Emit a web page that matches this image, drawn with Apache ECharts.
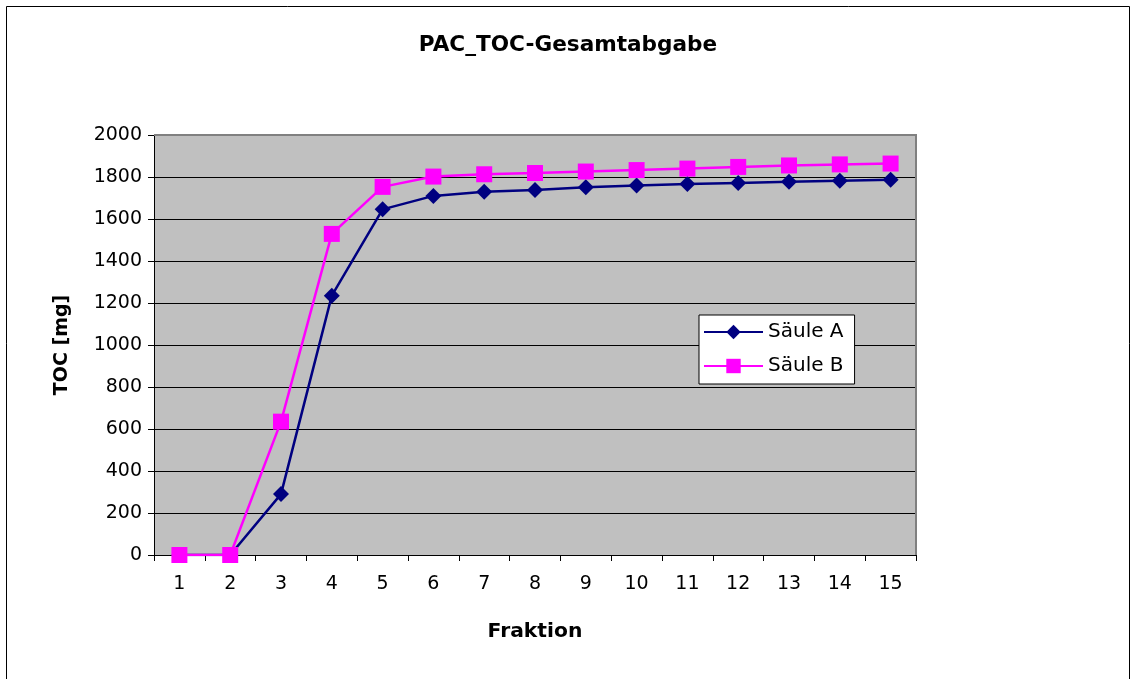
<!DOCTYPE html>
<html>
<head>
<meta charset="utf-8">
<script src="https://cdn.jsdelivr.net/npm/echarts@6/dist/echarts.min.js"></script>
<style>
  html, body { margin: 0; padding: 0; background: #fff; }
  #chart { width: 1136px; height: 679px; }
</style>
</head>
<body>
<div id="chart"></div>
<script>
// Fractions on the x axis
const fractions = ['1','2','3','4','5','6','7','8','9','10','11','12','13','14','15'];
// Cumulative TOC release per column [mg]
const saeuleA = [0, 0, 290, 1235, 1646, 1710, 1730, 1738, 1751, 1760, 1767, 1772, 1777, 1782, 1787];
const saeuleB = [0, 0, 635, 1529, 1753, 1802, 1813, 1819, 1826, 1833, 1840, 1848, 1855, 1860, 1864];
const seriesNames = ['Säule A', 'Säule B'];

const font = '"DejaVu Sans", "Liberation Sans", Arial, sans-serif';
const chart = echarts.init(document.getElementById('chart'), null, { renderer: 'canvas' });

// plot rectangle
const G = { left: 154, top: 135, right: 916, bottom: 555 };

chart.setOption({
  animation: false,
  backgroundColor: '#ffffff',
  textStyle: { fontFamily: font },
  title: {
    text: 'PAC_TOC-Gesamtabgabe',
    left: 'center',
    top: 29,
    textStyle: { fontFamily: font, fontSize: 21.6, fontWeight: 'bold', color: '#000' }
  },
  graphic: [
    {
      type: 'rect',
      shape: { x: 6.5, y: 6.5, width: 1123, height: 700 },
      style: { fill: 'none', stroke: '#000', lineWidth: 1 },
      silent: true
    },
    {
      type: 'polyline',
      z: 1,
      shape: { points: [[G.left, G.top], [G.right, G.top], [G.right, G.bottom]] },
      style: { fill: 'none', stroke: '#808080', lineWidth: 2 },
      silent: true
    }
  ],
  grid: {
    left: G.left, top: G.top, right: 1136 - G.right, bottom: 679 - G.bottom,
    show: true,
    backgroundColor: '#C0C0C0',
    borderColor: '#808080',
    borderWidth: 0
  },
  legend: {
    orient: 'vertical',
    left: 699, top: 315,
    backgroundColor: '#fff',
    borderColor: '#000',
    borderWidth: 1,
    borderRadius: 0,
    padding: [7, 11, 8, 4],
    itemWidth: 59, itemHeight: 18, itemGap: 14,
    textStyle: { fontFamily: font, fontSize: 20, color: '#000' },
    data: seriesNames
  },
  xAxis: {
    type: 'category',
    data: fractions,
    boundaryGap: true,
    name: 'Fraktion',
    nameLocation: 'middle',
    nameGap: 67,
    nameTextStyle: { fontFamily: font, fontSize: 20.3, fontWeight: 'bold', color: '#000' },
    axisLine: { lineStyle: { color: '#000', width: 1 } },
    axisTick: { show: true, length: 6, lineStyle: { color: '#000' } },
    axisLabel: { fontFamily: font, fontSize: 19, color: '#000', margin: 20 },
    splitLine: { show: false }
  },
  yAxis: {
    type: 'value',
    min: 0, max: 2000, interval: 200,
    name: 'TOC [mg]',
    nameLocation: 'middle',
    nameGap: 82,
    nameRotate: 90,
    nameTextStyle: { fontFamily: font, fontSize: 19, fontWeight: 'bold', color: '#000' },
    axisLine: { show: true, lineStyle: { color: '#000', width: 1 } },
    axisTick: { show: true, length: 6, lineStyle: { color: '#000' } },
    axisLabel: { fontFamily: font, fontSize: 19, color: '#000', margin: 12, formatter: v => String(v) },
    splitLine: { show: true, lineStyle: { color: '#000', width: 1 } }
  },
  series: [
    {
      name: seriesNames[0],
      type: 'line',
      data: saeuleA,
      symbol: 'diamond',
      symbolSize: 16,
      itemStyle: { color: '#000080' },
      lineStyle: { color: '#000080', width: 2.5 },
      z: 3
    },
    {
      name: seriesNames[1],
      type: 'line',
      data: saeuleB,
      symbol: 'rect',
      symbolSize: 16,
      itemStyle: { color: '#FF00FF' },
      lineStyle: { color: '#FF00FF', width: 2.5 },
      z: 4
    }
  ]
});
</script>
</body>
</html>
